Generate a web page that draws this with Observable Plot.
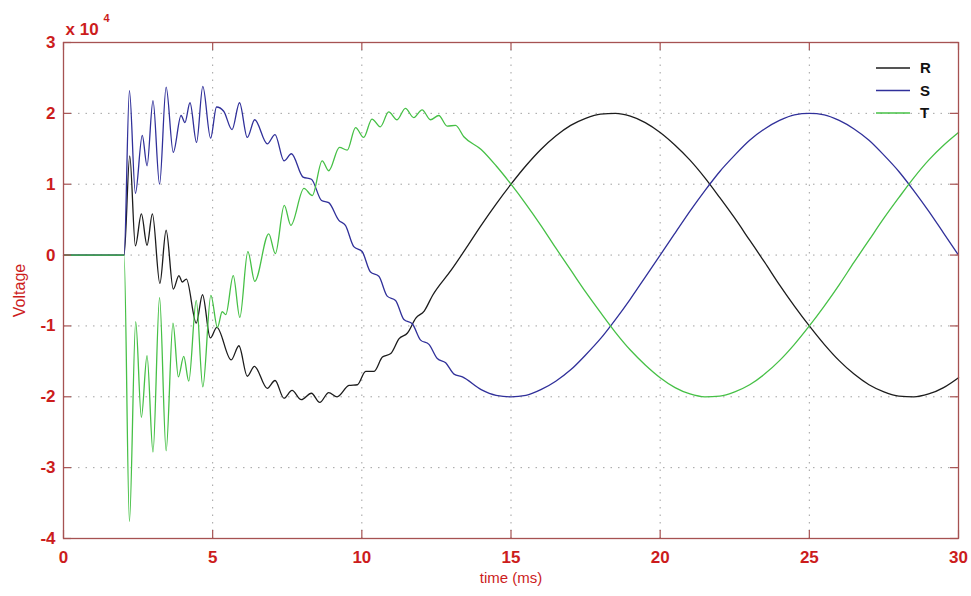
<!DOCTYPE html>
<html><head><meta charset="utf-8">
<script src="https://cdn.jsdelivr.net/npm/d3@7"></script>
<script src="https://cdn.jsdelivr.net/npm/@observablehq/plot@0.6"></script>
<style>
body{margin:0;background:#fff;}
#wrap{position:relative;width:971px;height:596px;}
#legend{position:absolute;left:870px;top:56px;}
</style></head><body><div id="wrap"></div>
<script>
// ---- data (time in ms, voltage in units of 10^4 V) ----
const xTicks = [0, 5, 10, 15, 20, 25, 30];
const yTicks = [-4, -3, -2, -1, 0, 1, 2, 3];
const seriesNames = ["R", "S", "T"];
const seriesColors = ["#1c1c1c", "#30309a", "#46c046"];

const rPoints = [[0,0],[2.03,0],[2.22,1.40],[2.41,0.13],[2.61,0.58],[2.80,0.14],[2.98,0.58],[3.23,-0.40],[3.44,0.35],[3.68,-0.48],[3.87,-0.29],[3.98,-0.38],[4.12,-0.34],[4.45,-0.96],[4.66,-0.56],[4.92,-1.17],[5.14,-1.02],[5.62,-1.48],[5.88,-1.28],[6.16,-1.71],[6.40,-1.57],[6.83,-1.88],[7.09,-1.77],[7.39,-2.02],[7.66,-1.91],[7.97,-2.04],[8.31,-1.95],[8.59,-2.08],[8.89,-1.94],[9.17,-2.00],[9.57,-1.84],[9.85,-1.83],[10.13,-1.64],[10.41,-1.64],[10.69,-1.44],[10.97,-1.39],[11.25,-1.18],[11.53,-1.10],[11.81,-0.89],[12.09,-0.79],[12.37,-0.57],[13,-0.21],[13.5,0.10],[14,0.42],[14.5,0.72],[15,1.00],[15.5,1.26],[16,1.49],[16.5,1.68],[17,1.83],[17.5,1.93],[18,1.99],[18.5,2.00],[19,1.96],[19.5,1.87],[20,1.73],[20.5,1.55],[21,1.34],[21.5,1.09],[22,0.81],[22.5,0.52],[23,0.21],[23.5,-0.10],[24,-0.42],[24.5,-0.72],[25,-1.00],[25.5,-1.26],[26,-1.49],[26.5,-1.68],[27,-1.83],[27.5,-1.93],[28,-1.99],[28.5,-2.00],[29,-1.96],[29.5,-1.87],[30,-1.73]];

const sPoints = [[0,0],[2.03,0],[2.21,2.32],[2.41,0.87],[2.64,1.69],[2.80,1.26],[3.00,2.18],[3.22,1.00],[3.44,2.37],[3.68,1.45],[3.94,1.97],[4.07,1.87],[4.24,2.15],[4.46,1.59],[4.67,2.38],[4.93,1.65],[5.13,2.09],[5.37,2.03],[5.65,1.77],[5.90,2.15],[6.16,1.66],[6.41,1.91],[6.83,1.57],[7.09,1.70],[7.39,1.33],[7.64,1.43],[8.03,1.10],[8.31,1.07],[8.65,0.77],[8.89,0.74],[9.23,0.49],[9.45,0.42],[9.73,0.12],[10.01,0.05],[10.29,-0.24],[10.57,-0.30],[10.85,-0.58],[11.13,-0.64],[11.41,-0.91],[11.69,-0.97],[11.97,-1.20],[12.25,-1.26],[12.53,-1.46],[12.81,-1.52],[13.09,-1.68],[13.37,-1.72],[14,-1.90],[14.5,-1.98],[15,-2.00],[15.5,-1.98],[16,-1.90],[16.5,-1.78],[17,-1.62],[17.5,-1.41],[18,-1.18],[18.5,-0.91],[19,-0.62],[19.5,-0.31],[20,0.00],[20.5,0.31],[21,0.62],[21.5,0.91],[22,1.18],[22.5,1.41],[23,1.62],[23.5,1.78],[24,1.90],[24.5,1.98],[25,2.00],[25.5,1.98],[26,1.90],[26.5,1.78],[27,1.62],[27.5,1.41],[28,1.18],[28.5,0.91],[29,0.62],[29.5,0.31],[30,0.00]];

const tPoints = [[0,0],[2.03,0],[2.21,-3.76],[2.42,-0.94],[2.61,-2.29],[2.80,-1.42],[3.00,-2.78],[3.22,-0.60],[3.44,-2.76],[3.67,-0.96],[3.85,-1.72],[4.03,-1.43],[4.20,-1.78],[4.45,-0.64],[4.67,-1.86],[4.94,-0.57],[5.16,-1.02],[5.32,-0.80],[5.44,-0.84],[5.69,-0.29],[5.91,-0.88],[6.18,0.05],[6.41,-0.37],[6.88,0.30],[7.10,0.02],[7.40,0.70],[7.62,0.42],[8.06,0.94],[8.34,0.84],[8.67,1.33],[8.89,1.19],[9.25,1.52],[9.51,1.48],[9.79,1.80],[10.06,1.66],[10.34,1.92],[10.62,1.81],[10.90,2.02],[11.18,1.91],[11.46,2.07],[11.74,1.94],[12.02,2.05],[12.30,1.91],[12.58,1.97],[12.86,1.82],[13.14,1.83],[13.42,1.67],[14,1.49],[14.5,1.26],[15,1.00],[15.5,0.72],[16,0.42],[16.5,0.10],[17,-0.21],[17.5,-0.52],[18,-0.81],[18.5,-1.09],[19,-1.34],[19.5,-1.55],[20,-1.73],[20.5,-1.87],[21,-1.96],[21.5,-2.00],[22,-1.99],[22.5,-1.93],[23,-1.83],[23.5,-1.68],[24,-1.49],[24.5,-1.26],[25,-1.00],[25.5,-0.72],[26,-0.42],[26.5,-0.10],[27,0.21],[27.5,0.52],[28,0.81],[28.5,1.09],[29,1.34],[29.5,1.55],[30,1.73]];

// ---- build table ----
const table = [];
[rPoints, sPoints, tPoints].forEach((pts, i) =>
  pts.forEach(([t, v]) => table.push({series: seriesNames[i], t, v})));

const red = "#cc1c1c", frameColor = "#a65252";
const W = 971, H = 596, mL = 63, mR = 13, mT = 42, mB = 58;
const innerW = W - mL - mR, innerH = H - mT - mB;
const font = '"Liberation Sans", Arial, Helvetica, sans-serif';
const fmt = d => String(d);

const chart = Plot.plot({
  width: W, height: H,
  marginLeft: mL, marginRight: mR, marginTop: mT, marginBottom: mB,
  style: {fontFamily: font, background: "#fff"},
  x: {domain: [0, 30]},
  y: {domain: [-4, 3]},
  color: {domain: seriesNames, range: seriesColors},
  marks: [
    Plot.gridX(xTicks, {stroke: "#8a8a8a", strokeOpacity: 0.8, strokeDasharray: "1.5,6"}),
    Plot.gridY(yTicks, {stroke: "#8a8a8a", strokeOpacity: 0.8, strokeDasharray: "1.5,6"}),
    Plot.line(table, {x: "t", y: "v", z: "series", stroke: "series", strokeWidth: 1.3, curve: "monotone-x"}),
    Plot.frame({stroke: frameColor, strokeWidth: 1.3}),
    Plot.ruleX(xTicks, {x: d => d, insetTop: innerH - 8, stroke: frameColor, strokeWidth: 1.2}),
    Plot.ruleX(xTicks, {x: d => d, insetBottom: innerH - 8, stroke: frameColor, strokeWidth: 1.2}),
    Plot.ruleY(yTicks, {y: d => d, insetRight: innerW - 8, stroke: frameColor, strokeWidth: 1.2}),
    Plot.ruleY(yTicks, {y: d => d, insetLeft: innerW - 8, stroke: frameColor, strokeWidth: 1.2}),
    Plot.axisX(xTicks, {tickSize: 0, tickPadding: 12, tickFormat: fmt, fontSize: 17, fontWeight: "bold", fill: red, label: null}),
    Plot.axisY(yTicks, {tickSize: 0, tickPadding: 8, tickFormat: fmt, fontSize: 17, fontWeight: "bold", fill: red, label: null}),
    Plot.text(["time (ms)"], {frameAnchor: "bottom", dy: 44, fill: red, fontSize: 15}),
    Plot.text(["Voltage"], {frameAnchor: "left", textAnchor: "middle", dx: -44, rotate: -90, fill: red, fontSize: 16}),
    Plot.text(["x 10"], {frameAnchor: "top-left", textAnchor: "start", dx: 2, dy: -20, fill: red, fontSize: 17, fontWeight: "bold"}),
    Plot.text(["4"], {frameAnchor: "top-left", textAnchor: "start", dx: 40, dy: -28, fill: red, fontSize: 11, fontWeight: "bold"})
  ]
});

const wrap = document.getElementById("wrap");
wrap.appendChild(chart);

// ---- legend (inside top-right) ----
const lg = d3.create("svg").attr("id", "legend").attr("width", 80).attr("height", 70);
seriesNames.forEach((name, i) => {
  const y = 12 + i * 22.5;
  lg.append("line").attr("x1", 6).attr("x2", 40).attr("y1", y).attr("y2", y)
    .attr("stroke", seriesColors[i]).attr("stroke-width", 1.3);
  lg.append("text").attr("x", 50).attr("y", y).attr("dy", "0.36em")
    .attr("font-family", font).attr("font-weight", "bold").attr("font-size", 15)
    .attr("fill", "#111").text(name);
});
wrap.appendChild(lg.node());
</script>
</body></html>
